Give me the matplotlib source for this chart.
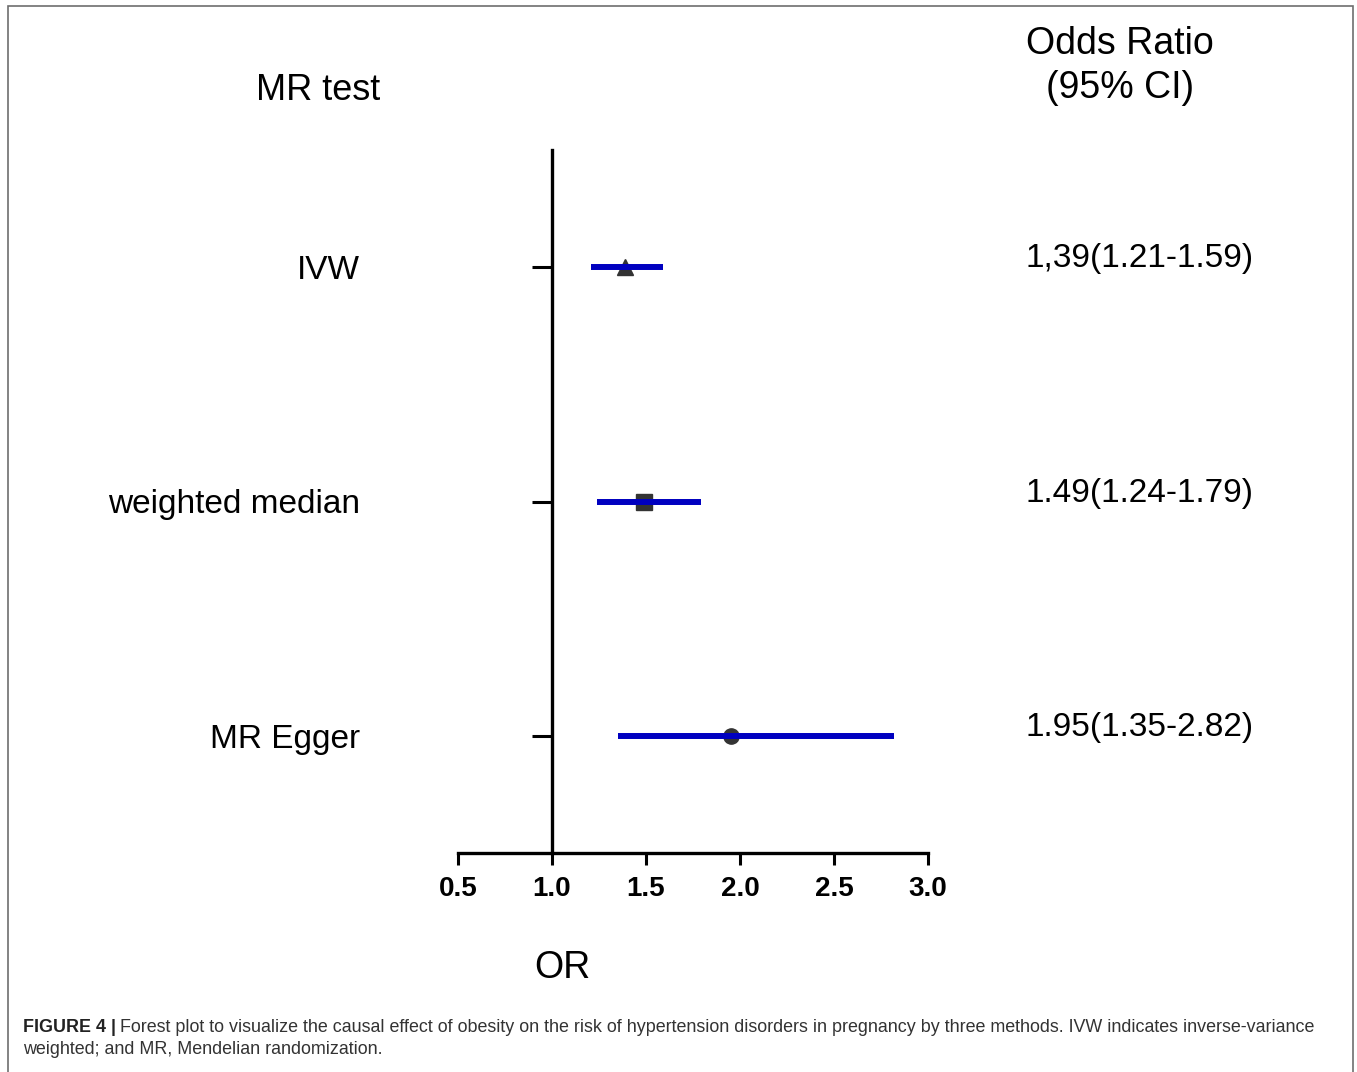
import matplotlib
matplotlib.use("Agg")
import matplotlib.pyplot as plt
import matplotlib.patches as patches

plt.rcParams['font.family'] = ['Liberation Sans', 'DejaVu Sans']

methods = ['IVW', 'weighted median', 'MR Egger']
or_est = [1.39, 1.49, 1.95]
ci_low = [1.21, 1.24, 1.35]
ci_high = [1.59, 1.79, 2.82]
or_text = ['1,39(1.21-1.59)', '1.49(1.24-1.79)', '1.95(1.35-2.82)']
markers = ['^', 's', 'o']
xticks = [0.5, 1.0, 1.5, 2.0, 2.5, 3.0]

caption_bold = 'FIGURE 4 |'
caption_1 = ('Forest plot to visualize the causal effect of obesity on the risk of '
             'hypertension disorders in pregnancy by three methods. IVW indicates inverse-variance')
caption_2 = 'weighted; and MR, Mendelian randomization.'

W, H = 1357, 1072
fig = plt.figure(figsize=(W / 100, H / 100), dpi=100)
ax = fig.add_axes([458 / W, 1 - 853 / H, 470 / W, 703 / H])

rows = [len(methods) - i for i in range(len(methods))]
for r, est, lo, hi, m in zip(rows, or_est, ci_low, ci_high, markers):
    ax.plot([est], [r], marker=m, markersize=11, color='#333333', zorder=2, clip_on=False)
    ax.plot([lo, hi], [r, r], color='#0000c0', lw=4.3, solid_capstyle='butt', zorder=3)

for s in ['top', 'right']:
    ax.spines[s].set_visible(False)
ax.spines['left'].set_position(('data', 1.0))
ax.spines['left'].set_linewidth(2.4)
ax.spines['bottom'].set_linewidth(2.4)

ax.set_xlim(0.5, 3.0)
ax.set_ylim(0.5, 3.5)
ax.set_xticks(xticks)
ax.set_xticklabels([f'{t:.1f}' for t in xticks])
ax.set_yticks(rows)
ax.set_yticklabels(methods)
ax.tick_params(axis='x', direction='out', length=8.6, width=2.2, pad=8, labelsize=20)
ax.tick_params(axis='y', direction='out', length=14.4, width=2.2, pad=124, labelsize=24)
for lab in ax.get_xticklabels():
    lab.set_fontweight('bold')

# column headers, axis title and OR text
fig.text(318 / W, 1 - 90 / H, 'MR test', fontsize=26, ha='center', va='center')
fig.text(1120 / W, 1 - 66 / H, 'Odds Ratio\n(95% CI)', fontsize=27, ha='center',
         va='center', linespacing=1.32)
fig.text(562 / W, 1 - 968 / H, 'OR', fontsize=27, ha='center', va='center')
tr = matplotlib.transforms.blended_transform_factory(fig.transFigure, ax.transData)
for r, t in zip(rows, or_text):
    ax.text(1026 / W, r + 0.035, t, transform=tr, fontsize=24, ha='left', va='center', clip_on=False)

# frame
fig.patches.append(patches.Rectangle((7.5 / W, -0.05), (1353 - 7.5) / W, 1.05 - 6 / H,
                                     transform=fig.transFigure, fill=False,
                                     edgecolor='#6e6e6e', lw=1.2))

# caption
cap_font = ['Liberation Sans Narrow', 'Liberation Sans']
cap_size = 12.9
t0 = fig.text(23 / W, 1 - 1027 / H, caption_bold, fontsize=cap_size, fontweight='bold',
              family=cap_font, color='#222222', va='center')
fig.canvas.draw()
bb = t0.get_window_extent()
fig.text((bb.x1 + 4) / W, 1 - 1027 / H, caption_1, fontsize=cap_size, family=cap_font,
         color='#333333', va='center')
fig.text(23 / W, 1 - 1050 / H, caption_2, fontsize=cap_size, family=cap_font,
         color='#333333', va='center')

fig.savefig('out.png', dpi=100)
